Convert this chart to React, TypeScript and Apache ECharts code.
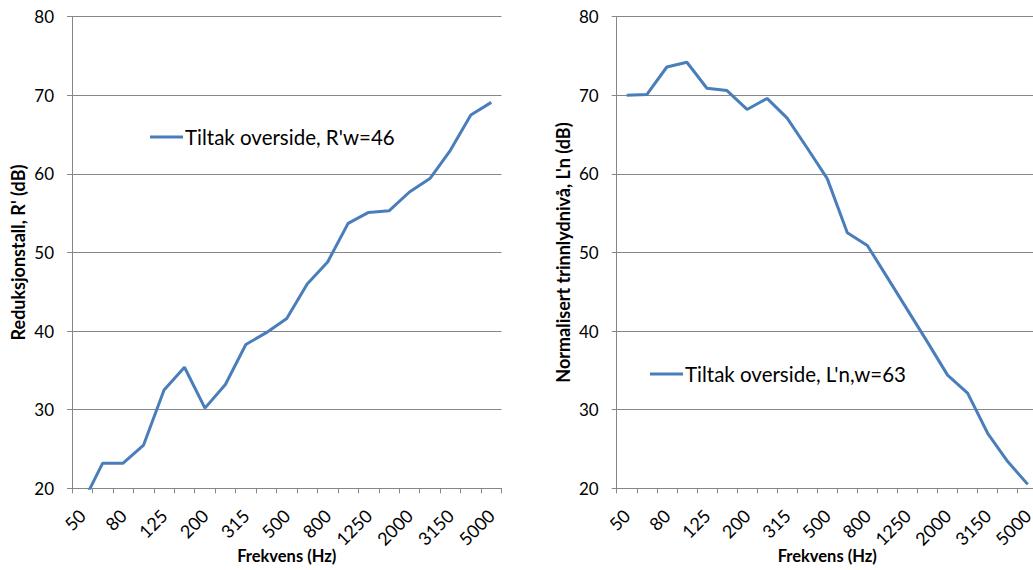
import React, { useEffect, useRef } from "react";
import * as echarts from "echarts";

// Third-octave band centre frequencies (Hz)
const frequencies = [
  "50", "63", "80", "100", "125", "160", "200", "250", "315", "400", "500",
  "630", "800", "1000", "1250", "1600", "2000", "2500", "3150", "4000", "5000",
];

// Apparent sound reduction index R' (dB)
const reductionIndex = [
  18.0, 23.2, 23.2, 25.5, 32.5, 35.4, 30.2, 33.2, 38.3, 39.8, 41.6,
  46.0, 48.8, 53.7, 55.1, 55.3, 57.7, 59.4, 63.0, 67.5, 69.1,
];

// Normalised impact sound pressure level L'n (dB)
const impactLevel = [
  70.0, 70.1, 73.6, 74.2, 70.9, 70.6, 68.2, 69.6, 67.1, 63.3, 59.4,
  52.5, 50.9, 46.8, 42.7, 38.6, 34.4, 32.1, 27.0, 23.4, 20.5,
];

const airborneName = "Tiltak overside, R'w=46";
const impactName = "Tiltak overside, L'n,w=63";
const xTitle = "Frekvens (Hz)";
const yTitleLeft = "Reduksjonstall, R' (dB)";
const yTitleRight = "Normalisert trinnlydnivå, L'n (dB)";

const FONT = "Lato, 'Open Sans', sans-serif";
const LINE_COLOR = "#4a7ebb";
const GRID_COLOR = "#868686";

function xAxisFor(gridIndex: number) {
  return {
    type: "category" as const,
    gridIndex,
    data: frequencies,
    boundaryGap: true,
    name: xTitle,
    nameLocation: "middle" as const,
    nameGap: 59,
    nameMoveOverlap: false,
    nameTextStyle: { fontFamily: FONT, fontSize: 16.5, fontWeight: "bold", color: "#000" },
    axisLine: { show: true, lineStyle: { color: GRID_COLOR, width: 1 } },
    axisTick: { show: true, interval: 0, length: 5, lineStyle: { color: GRID_COLOR } },
    axisLabel: {
      interval: 1,
      rotate: 45,
      margin: 24,
      fontFamily: FONT,
      fontSize: 18,
      color: "#000",
    },
    splitLine: { show: false },
  };
}

function yAxisFor(gridIndex: number, name: string) {
  return {
    type: "value" as const,
    gridIndex,
    min: 20,
    max: 80,
    interval: 10,
    name,
    nameLocation: "middle" as const,
    nameGap: 45,
    nameMoveOverlap: false,
    nameTextStyle: { fontFamily: FONT, fontSize: 18, fontWeight: "bold", color: "#000" },
    axisLine: { show: true, lineStyle: { color: GRID_COLOR, width: 1 } },
    axisTick: { show: true, length: 5, lineStyle: { color: GRID_COLOR } },
    axisLabel: { margin: 18, fontFamily: FONT, fontSize: 17, color: "#000" },
    splitLine: { show: true, lineStyle: { color: GRID_COLOR, width: 1 } },
  };
}

function lineSeries(name: string, index: number, data: number[]) {
  return {
    name,
    type: "line" as const,
    xAxisIndex: index,
    yAxisIndex: index,
    data,
    showSymbol: false,
    symbol: "none",
    clip: true,
    lineStyle: { color: LINE_COLOR, width: 3 },
    itemStyle: { color: LINE_COLOR },
  };
}

function legendFor(name: string, left: number, top: number) {
  return {
    data: [name],
    left,
    top,
    padding: 0,
    icon: "rect",
    itemWidth: 33,
    itemHeight: 3,
    selectedMode: false,
    textStyle: { fontFamily: FONT, fontSize: 20.5, color: "#000", padding: [0, 0, 0, -3] },
  };
}

export default function App() {
  const ref = useRef<HTMLDivElement>(null);

  useEffect(() => {
    if (!ref.current) return;
    const chart = echarts.init(ref.current, undefined, { renderer: "svg" });
    chart.setOption({
      animation: false,
      backgroundColor: "#ffffff",
      grid: [
        { left: 72, top: 16.7, width: 429.5, height: 471.6, outerBoundsMode: "none", containLabel: false },
        { left: 616.7, top: 16.7, width: 421.1, height: 471.6, outerBoundsMode: "none", containLabel: false },
      ],
      xAxis: [xAxisFor(0), xAxisFor(1)],
      yAxis: [yAxisFor(0, yTitleLeft), yAxisFor(1, yTitleRight)],
      legend: [legendFor(airborneName, 150, 126.5), legendFor(impactName, 650, 363.5)],
      series: [lineSeries(airborneName, 0, reductionIndex), lineSeries(impactName, 1, impactLevel)],
    });
    return () => chart.dispose();
  }, []);

  return (
    <div
      ref={ref}
      style={{ position: "absolute", left: 0, top: 0, width: 1033, height: 570, background: "#fff" }}
    />
  );
}
